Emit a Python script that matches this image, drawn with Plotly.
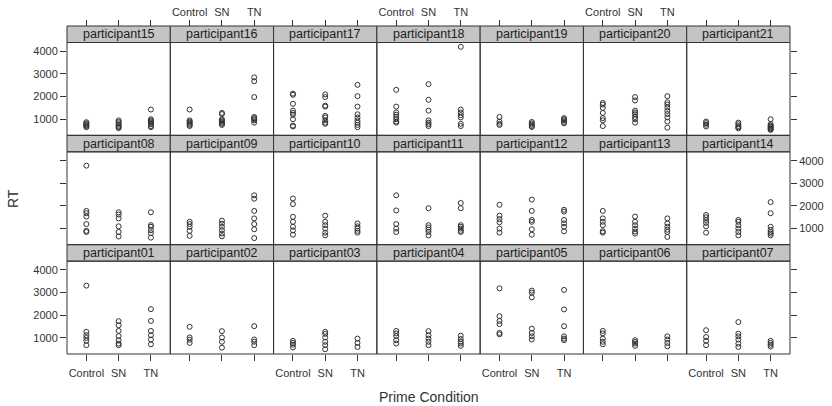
import plotly.graph_objects as go

conditions = ["Control", "SN", "TN"]
participants = ["participant%02d" % i for i in range(1, 22)]

rt_control = {
    "participant01": [3310, 1270, 1120, 1000, 870, 680],
    "participant02": [1490, 1020, 920, 780],
    "participant03": [870, 780, 700, 580],
    "participant04": [1310, 1200, 1080, 900, 750],
    "participant05": [3190, 1960, 1750, 1610, 1220, 1160],
    "participant06": [1310, 1200, 970, 830, 720],
    "participant07": [1340, 1040, 870, 680],
    "participant08": [3780, 1780, 1680, 1530, 1200, 900, 850],
    "participant09": [1300, 1200, 1080, 900, 680],
    "participant10": [2330, 2080, 1520, 1300, 1080, 920, 730],
    "participant11": [2470, 1800, 1200, 1000, 850],
    "participant12": [2050, 1570, 1420, 1280, 1000, 820],
    "participant13": [1780, 1450, 1300, 1150, 880, 820],
    "participant14": [1600, 1500, 1380, 1250, 1100, 820],
    "participant15": [870, 820, 780, 740, 700, 650],
    "participant16": [1430, 950, 900, 850, 800, 750, 700],
    "participant17": [2130, 2080, 1680, 1380, 1280, 1200, 1000, 720, 680],
    "participant18": [2300, 1560, 1300, 1200, 1100, 1000, 900, 850],
    "participant19": [1100, 900, 800, 750],
    "participant20": [1720, 1650, 1500, 1280, 1050, 950, 700],
    "participant21": [900, 830, 760, 680],
}

rt_sn = {
    "participant01": [1740, 1560, 1310, 1080, 900, 750, 680],
    "participant02": [1300, 1020, 830, 570],
    "participant03": [1270, 1180, 1020, 830, 680, 500],
    "participant04": [1300, 1120, 970, 830, 680],
    "participant05": [3090, 3000, 2790, 1410, 1220, 1070, 930],
    "participant06": [900, 820, 750, 650],
    "participant07": [1700, 1190, 1070, 930, 750, 600],
    "participant08": [1720, 1620, 1450, 1100, 850, 650],
    "participant09": [1350, 1220, 1080, 930, 780, 660],
    "participant10": [1570, 1300, 1150, 1000, 820, 700],
    "participant11": [1900, 1150, 1050, 950, 850, 700],
    "participant12": [2280, 1780, 1380, 1300, 970, 730],
    "participant13": [1530, 1300, 1150, 1000, 870, 780],
    "participant14": [1380, 1300, 1150, 1000, 850, 700],
    "participant15": [950, 880, 820, 760, 700, 650, 610],
    "participant16": [1280, 1230, 1000, 950, 900, 850, 800, 750],
    "participant17": [2100, 1980, 1600, 1560, 1150, 1080, 950, 850, 800],
    "participant18": [2550, 1860, 1380, 950, 850, 780, 700],
    "participant19": [880, 820, 760, 700, 660],
    "participant20": [1980, 1830, 1380, 1300, 1220, 1100, 1000, 850],
    "participant21": [850, 780, 700, 640, 600],
}

rt_tn = {
    "participant01": [2270, 1750, 1310, 1120, 930, 720],
    "participant02": [1520, 930, 830, 680],
    "participant03": [970, 780, 600],
    "participant04": [1100, 950, 830, 750, 650],
    "participant05": [3120, 2260, 1520, 1070, 970, 900],
    "participant06": [1070, 930, 780, 630],
    "participant07": [870, 780, 700, 620],
    "participant08": [1720, 1150, 1080, 930, 800, 600],
    "participant09": [2470, 2320, 1780, 1450, 1200, 970, 580],
    "participant10": [1230, 1100, 1000, 900, 820],
    "participant11": [2130, 1900, 1150, 1080, 1000, 900, 850],
    "participant12": [1830, 1750, 1380, 1230, 1080, 880],
    "participant13": [1450, 1230, 1080, 950, 850, 630],
    "participant14": [2170, 1680, 1080, 950, 850, 780, 700],
    "participant15": [1430, 1000, 950, 900, 850, 780, 700, 650],
    "participant16": [2850, 2680, 1980, 1100, 1050, 1000, 950, 850],
    "participant17": [2520, 2020, 1560, 1220, 1080, 950, 850, 750, 650],
    "participant18": [4200, 1430, 1300, 1180, 1080, 800, 700],
    "participant19": [1050, 1000, 950, 880, 820],
    "participant20": [2020, 1750, 1650, 1520, 1370, 1230, 1080, 900, 630],
    "participant21": [1000, 780, 720, 680, 640, 600, 560, 530],
}

y_ticks = [1000, 2000, 3000, 4000]

# ---- layout geometry ----
W, H = 832, 406
ML, MR, MT, MB = 67, 42, 26, 52
plot_w = W - ML - MR
plot_h = H - MT - MB
ncol, nrow = 7, 3
block = 1.0 / nrow
strip_h = 16.5 / plot_h
col_w = 1.0 / ncol

FONT = "Liberation Sans, Arial, sans-serif"
INK = "#333333"

fig = go.Figure()
layout = {}
shapes = []
annotations = []

# rows from top: row 0 = participants 15-21, row 1 = 08-14, row 2 = 01-07
for r in range(nrow):
    for c in range(ncol):
        pnum = (nrow - 1 - r) * ncol + c + 1
        pname = "participant%02d" % pnum
        k = r * ncol + c + 1
        xs, ys = [], []
        for i, src in enumerate([rt_control, rt_sn, rt_tn]):
            vals = src[pname]
            xs += [i + 1] * len(vals)
            ys += vals
        fig.add_trace(go.Scatter(
            x=xs, y=ys, mode="markers",
            marker=dict(symbol="circle-open", size=5, color=INK, line=dict(width=1, color=INK)),
            xaxis="x%d" % k, yaxis="y%d" % k, showlegend=False, hoverinfo="y"))

        top = 1 - r * block
        strip_bot = top - strip_h
        bot = 1 - (r + 1) * block
        x0, x1 = c * col_w, (c + 1) * col_w

        xa = dict(domain=[x0, x1], range=[0.4, 3.6], tickvals=[1, 2, 3], ticktext=conditions,
                  showgrid=False, zeroline=False, showline=False, automargin=False,
                  tickfont=dict(family=FONT, size=11, color=INK), tickcolor=INK, ticklen=6, tickwidth=1)
        if r == 0:
            xa.update(anchor="free", position=1.0, side="top", ticks="outside",
                      showticklabels=(c % 2 == 1))
        elif r == nrow - 1:
            xa.update(anchor="y%d" % k, side="bottom", ticks="outside",
                      showticklabels=(c % 2 == 0), ticklabelstandoff=3)
        else:
            xa.update(anchor="y%d" % k, ticks="", showticklabels=False)

        ya = dict(domain=[bot, strip_bot], range=[290, 4390], tickvals=y_ticks,
                  showgrid=False, zeroline=False, showline=False, anchor="x%d" % k, automargin=False,
                  tickfont=dict(family=FONT, size=11, color=INK), tickcolor=INK, ticklen=6, tickwidth=1)
        if c == 0:
            ya.update(side="left", ticks="outside", showticklabels=(r != 1))
        elif c == ncol - 1:
            ya.update(side="right", ticks="outside", showticklabels=(r == 1))
        else:
            ya.update(ticks="", showticklabels=False)

        layout["xaxis%d" % k] = xa
        layout["yaxis%d" % k] = ya

        # panel box
        shapes.append(dict(type="rect", xref="paper", yref="paper", x0=x0, x1=x1, y0=bot, y1=strip_bot,
                           line=dict(color=INK, width=1), fillcolor="rgba(0,0,0,0)", layer="above"))
        # strip
        shapes.append(dict(type="rect", xref="paper", yref="paper", x0=x0, x1=x1, y0=strip_bot, y1=top,
                           line=dict(color=INK, width=1), fillcolor="#c4c4c4", layer="below"))
        annotations.append(dict(text=pname, xref="paper", yref="paper", x=(x0 + x1) / 2,
                                y=(strip_bot + top) / 2, showarrow=False, xanchor="center", yanchor="middle",
                                font=dict(family=FONT, size=12.5, color="#222222")))

annotations.append(dict(text="RT", xref="paper", yref="paper", x=(13 - ML) / plot_w,
                        y=(H - MB - 199) / plot_h, showarrow=False, textangle=-90,
                        xanchor="center", yanchor="middle", font=dict(family=FONT, size=14, color=INK)))
annotations.append(dict(text="Prime Condition", xref="paper", yref="paper", x=0.5,
                        y=(H - MB - 397) / plot_h, showarrow=False,
                        xanchor="center", yanchor="middle", font=dict(family=FONT, size=14, color=INK)))

fig.update_layout(**layout)
fig.update_layout(template="none", width=W, height=H, margin=dict(l=ML, r=MR, t=MT, b=MB, pad=0),
                  paper_bgcolor="white", plot_bgcolor="white",
                  shapes=shapes, annotations=annotations, showlegend=False,
                  font=dict(family=FONT, color=INK))

fig.write_html("out.html", config={"displayModeBar": False},
               post_script="document.body.style.margin='0';document.body.style.overflow='hidden';")
